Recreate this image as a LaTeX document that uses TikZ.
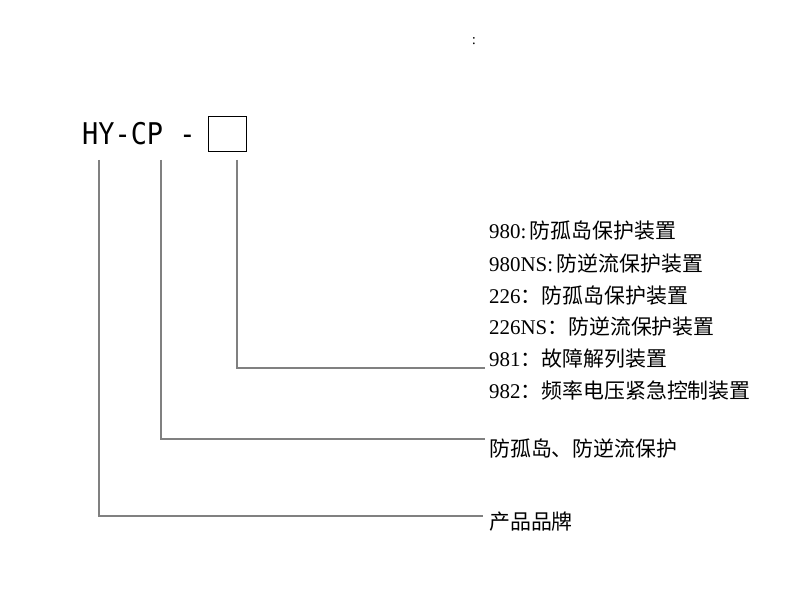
\documentclass[tikz,border=0pt]{standalone}
\usepackage{fontspec}
\setmainfont{Liberation Serif}
\newfontfamily\cjk{Noto Sans CJK SC}
\newfontfamily\monofam{DejaVu Sans Mono}
\begin{document}
\begin{tikzpicture}[x=1bp,y=-1bp,
  lead/.style={draw=black!50, line width=1.6bp},
  item/.style={anchor=base west, inner sep=0pt, font=\fontsize{21}{22}\selectfont},
  codebox/.style={draw=black, line width=1bp, minimum width=38bp, minimum height=35bp, inner sep=0pt}]
\useasboundingbox (0,0) rectangle (801,600);
% title code
\node[anchor=base west, inner sep=0pt, font=\monofam\fontsize{30}{30}\selectfont, xscale=0.9] (code) at (82,145) {HY-CP -};
\node[codebox, anchor=north west] (box) at (208,116) {};
\node[inner sep=0pt, font=\fontsize{15}{15}\selectfont] (colon) at (474,41) {:};
% anchor coordinates under the code
\coordinate (c1) at (99,160);
\coordinate (c2) at (161,160);
\coordinate (c3) at (237,160);
% texts
\node[item] (t1) at (489,239) {980:\,\cjk{防孤岛保护装置}};
\node[item] (t2) at (489,271) {980NS:\,\cjk{防逆流保护装置}};
\node[item] (t3) at (489,303) {226\cjk{：防孤岛保护装置}};
\node[item] (t4) at (489,334) {226NS\cjk{：防逆流保护装置}};
\node[item] (t5) at (489,366) {981\cjk{：故障解列装置}};
\node[item] (t6) at (489,398) {982\cjk{：频率电压紧急控制装置}};
\node[item] (t7) at (489,456) {\cjk{防孤岛、防逆流保护}};
\node[item] (t8) at (489,529) {\cjk{产品品牌}};
% end points of the leaders
\coordinate (e3) at (485,368);
\coordinate (e2) at (485,439);
\coordinate (e1) at (483,516);
% leaders
\draw[lead] (c3) |- (e3);
\draw[lead] (c2) |- (e2);
\draw[lead] (c1) |- (e1);
\end{tikzpicture}
\end{document}
